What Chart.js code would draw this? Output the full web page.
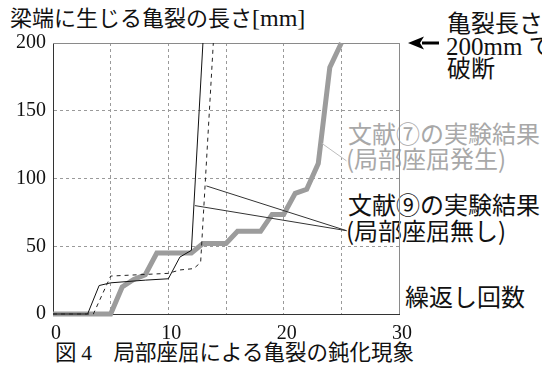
<!DOCTYPE html>
<html>
<head>
<meta charset="utf-8">
<script src="https://cdn.jsdelivr.net/npm/chart.js@4/dist/chart.umd.min.js"></script>
<style>
  html, body { margin: 0; padding: 0; background: #fff; overflow: hidden; }
  #wrap { position: relative; width: 542px; height: 367px; overflow: hidden; }
  #c { position: absolute; left: 0; top: 0; z-index: 2; }
  .t { position: absolute; z-index: 1; white-space: nowrap; font-family: "Noto Sans CJK JP", sans-serif; line-height: 1; color: #111; }
  .num { font-family: "Liberation Serif", serif; }
  .gray { color: #a8a8a8; }
</style>
</head>
<body>
<div id="wrap">
  <canvas id="c" width="542" height="367"></canvas>
  <div class="t" style="left:10px;top:5px;font-size:22px">梁端に生じる亀裂の長さ<span class="num" style="font-size:24px">[mm]</span></div>
  <div class="t" style="left:447px;top:10px;font-size:24px">亀裂長さ</div>
  <div class="t" style="left:446px;top:33px;font-size:24px"><span class="num" style="font-size:25px">200mm </span>で</div>
  <div class="t" style="left:447px;top:55px;font-size:24px">破断</div>
  <div class="t gray" style="left:348px;top:121px;font-size:24px">文献⑦の実験結果</div>
  <div class="t gray" style="left:346px;top:146px;font-size:24px">(局部座屈発生)</div>
  <div class="t" style="left:348px;top:192px;font-size:24px">文献⑨の実験結果</div>
  <div class="t" style="left:346px;top:218px;font-size:24px">(局部座屈無し)</div>
  <div class="t" style="left:405px;top:284px;font-size:24px">繰返し回数</div>
  <div class="t" style="left:55px;top:340px;font-size:21.5px">図 <span class="num">4</span>　局部座屈による亀裂の鈍化現象</div>
</div>
<script>
// Axis ranges and tick spacing
const xMin = 0, xMax = 30, xStep = 5, xLabelEvery = 10;
const yMin = 0, yMax = 200, yStep = 50;

// Reference ⑦: local buckling occurred (thick grey line)
const buckledCycles = [0, 5, 6, 7, 8, 9, 12, 13, 15, 16, 18, 19, 20, 21, 22, 23, 24, 25];
const buckledCrack  = [0, 0, 20, 25.5, 29, 45, 45, 52, 52, 61, 61, 73.5, 73.5, 89, 92, 111, 182, 200];

// Reference ⑨: no local buckling, specimen A (solid)
const solidCycles = [0, 3, 4, 5, 8, 10, 11, 12, 13];
const solidCrack  = [0, 0, 21, 23, 25, 26, 42, 47, 200];

// Reference ⑨: no local buckling, specimen B (dashed)
const dashedCycles = [0, 3.5, 5, 10, 11, 12.2, 12.8, 13.9];
const dashedCrack  = [0, 0, 28, 30, 32.5, 33.5, 38, 200];

// Leader lines joining the labels to the curves
const leaderBuckledCycles = [23.3, 25.45];
const leaderBuckledCrack  = [126, 113];
const leaderSolidCycles   = [12.3, 25.45];
const leaderSolidCrack    = [80, 61.5];
const leaderDashedCycles  = [13.3, 25.45];
const leaderDashedCrack   = [94.5, 61.5];

const pts = (xs, ys) => xs.map((x, i) => ({ x, y: ys[i] }));

const frame = {
  id: 'frame',
  beforeDatasetsDraw(chart) {
    const { ctx, chartArea: a } = chart;
    ctx.save();
    ctx.strokeStyle = '#8a8a8a';
    ctx.lineWidth = 1;
    ctx.beginPath();
    ctx.moveTo(a.left, a.top + 0.5);
    ctx.lineTo(a.right + 0.5, a.top + 0.5);
    ctx.lineTo(a.right + 0.5, a.bottom);
    ctx.stroke();
    ctx.restore();
  },
  afterDraw(chart) {
    // arrow pointing at the 200 mm failure level
    const { ctx, chartArea: a } = chart;
    const y = chart.scales.y.getPixelForValue(yMax);
    const tip = a.right + 9, base = a.right + 25, tail = a.right + 40;
    ctx.save();
    ctx.fillStyle = '#000';
    ctx.strokeStyle = '#000';
    ctx.lineWidth = 3;
    ctx.beginPath();
    ctx.moveTo(base - 2, y);
    ctx.lineTo(tail, y);
    ctx.stroke();
    ctx.beginPath();
    ctx.moveTo(tip, y);
    ctx.lineTo(base, y - 6.5);
    ctx.lineTo(base - 4, y);
    ctx.lineTo(base, y + 6.5);
    ctx.closePath();
    ctx.fill();
    ctx.restore();
  }
};

new Chart(document.getElementById('c'), {
  type: 'line',
  data: {
    datasets: [
      { data: pts(leaderBuckledCycles, leaderBuckledCrack), borderColor: '#bdbdbd', borderWidth: 1 },
      { data: pts(leaderSolidCycles, leaderSolidCrack), borderColor: '#333', borderWidth: 1 },
      { data: pts(leaderDashedCycles, leaderDashedCrack), borderColor: '#333', borderWidth: 1 },
      { data: pts(dashedCycles, dashedCrack), borderColor: '#222', borderWidth: 1, borderDash: [4, 4] },
      { data: pts(solidCycles, solidCrack), borderColor: '#111', borderWidth: 1 },
      { data: pts(buckledCycles, buckledCrack), borderColor: '#9c9c9c', borderWidth: 5, borderJoinStyle: 'miter' }
    ]
  },
  options: {
    responsive: false,
    animation: false,
    clip: false,
    layout: { padding: { top: 43, right: 143, bottom: 0, left: 0 } },
    elements: { point: { radius: 0 }, line: { tension: 0, fill: false } },
    plugins: { legend: { display: false }, tooltip: { enabled: false } },
    scales: {
      x: {
        type: 'linear', min: xMin, max: xMax,
        afterFit: s => { s.height = 53; },
        ticks: {
          stepSize: xStep, padding: 8, labelOffset: 3, color: '#111', maxRotation: 0, autoSkip: false,
          font: { family: 'Liberation Serif', size: 20 },
          callback: v => (v % xLabelEvery === 0 ? v : '')
        },
        grid: { color: '#9a9a9a', lineWidth: 1, drawTicks: false },
        border: { display: true, color: '#333', width: 1, dash: [3, 3] }
      },
      y: {
        type: 'linear', min: yMin, max: yMax,
        afterFit: s => { s.width = 53; },
        ticks: {
          stepSize: yStep, padding: 7, color: '#111',
          font: { family: 'Liberation Serif', size: 20 }
        },
        grid: { color: '#9a9a9a', lineWidth: 1, drawTicks: false },
        border: { display: true, color: '#333', width: 1, dash: [3, 3] }
      }
    }
  },
  plugins: [frame]
});
</script>
</body>
</html>
